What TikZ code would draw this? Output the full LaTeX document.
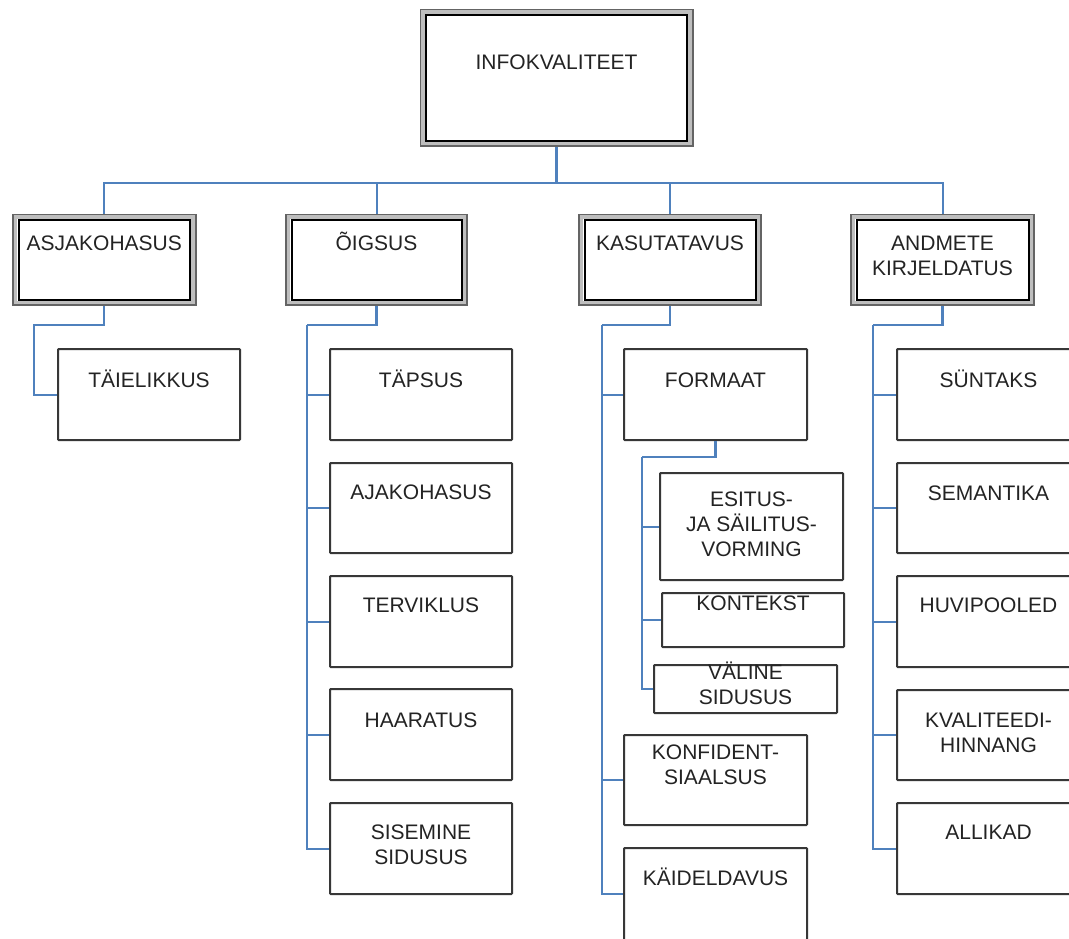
\documentclass[tikz,border=0pt]{standalone}
\usepackage{fontspec}
\setmainfont{Liberation Sans}
\usetikzlibrary{calc}
\definecolor{conn}{RGB}{79,129,189}
\definecolor{txt}{RGB}{35,35,35}
\definecolor{bord}{RGB}{55,55,55}
\definecolor{outerg}{RGB}{100,100,100}
\definecolor{midg}{RGB}{190,190,190}
\tikzset{
  lvlbox/.style={draw=outerg, line width=3pt, fill=white, rectangle, inner sep=0pt, anchor=north west},
  leafbox/.style={draw=bord, line width=2pt, fill=white, rectangle, inner sep=0pt, anchor=north west, rounded corners=0.8pt},
  lbl/.style={font=\fontsize{21}{24.8}\selectfont, text=txt, align=center, anchor=base, inner sep=0pt},
  wire/.style={draw=conn, line width=2pt},
  wirek/.style={draw=conn, line width=2.8pt},
}
% style, name, x1, y1, x2, y2, baseline y of last line, text
\newcommand\mkbox[8]{%
  \node[#1, minimum width={#5-#3}, minimum height={#6-#4}] (#2) at (#3,#4) {};
  \node[lbl] (#2-t) at (#2.north |- 0,#7) {#8};
}
\newcommand\dbl[1]{%
  \draw[midg, line width=3.5pt] ([shift={(3.5,3.5)}]#1.north west) rectangle ([shift={(-3.5,-3.5)}]#1.south east);
  \draw[black, line width=2pt] ([shift={(6.5,6.5)}]#1.north west) rectangle ([shift={(-6.5,-6.5)}]#1.south east);
}
\begin{document}
\begin{tikzpicture}[x=1pt,y=-1pt]
\useasboundingbox (0,0) rectangle (1069,938);
\fill[white] (0,0) rectangle (1069,938);
\clip (0,0) rectangle (1069,938);

% top
\mkbox{lvlbox}{inf}{419.5}{8.5}{690.5}{144}{69.5}{INFOKVALITEET}
\dbl{inf}

% level 1
\mkbox{lvlbox}{asj}{12}{213.5}{193.5}{303}{250.5}{ASJAKOHASUS}
\mkbox{lvlbox}{oig}{285}{213.5}{465}{303}{250.5}{ÕIGSUS}
\mkbox{lvlbox}{kas}{578}{213.5}{759}{303}{250.5}{KASUTATAVUS}
\mkbox{lvlbox}{and}{850}{213.5}{1032}{303}{275.3}{ANDMETE\\KIRJELDATUS}
\dbl{asj}\dbl{oig}\dbl{kas}\dbl{and}

% ASJAKOHASUS children
\mkbox{leafbox}{tai}{57}{348}{239}{439}{387.5}{TÄIELIKKUS}

% ÕIGSUS children
\mkbox{leafbox}{tap}{329}{348}{511}{439}{387.5}{TÄPSUS}
\mkbox{leafbox}{aja}{329}{462}{511}{552}{499}{AJAKOHASUS}
\mkbox{leafbox}{ter}{329}{575}{511}{666}{612.5}{TERVIKLUS}
\mkbox{leafbox}{haa}{329}{688}{511}{779}{727.5}{HAARATUS}
\mkbox{leafbox}{sis}{329}{802}{511}{893}{864.5}{SISEMINE\\SIDUSUS}

% KASUTATAVUS children
\mkbox{leafbox}{for}{623}{348}{806}{439}{387.5}{FORMAAT}
\mkbox{leafbox}{esi}{659}{472}{842}{579}{556.5}{ESITUS-\\JA SÄILITUS-\\VORMING}
\mkbox{leafbox}{kon}{661}{592}{843}{646}{610.5}{KONTEKST}
\mkbox{leafbox}{val}{653}{664}{836}{712}{704.5}{VÄLINE\\SIDUSUS}
\mkbox{leafbox}{knf}{623}{734}{806}{824}{784.5}{KONFIDENT-\\SIAALSUS}
\mkbox{leafbox}{kai}{623}{847}{806}{939}{885.5}{KÄIDELDAVUS}

% ANDMETE KIRJELDATUS children
\mkbox{leafbox}{syn}{896}{348}{1079}{439}{387.5}{SÜNTAKS}
\mkbox{leafbox}{sem}{896}{462}{1079}{552}{500.5}{SEMANTIKA}
\mkbox{leafbox}{huv}{896}{575}{1079}{666}{612.5}{HUVIPOOLED}
\mkbox{leafbox}{kva}{896}{689}{1079}{779}{752.3}{KVALITEEDI-\\HINNANG}
\mkbox{leafbox}{all}{896}{802}{1079}{893}{839.5}{ALLIKAD}

% connectors
\coordinate (bus) at (556,183);
\draw[wirek] (inf.south) -- (inf.south |- bus);
\draw[wire] (asj.north) |- (and.north |- bus) -- (and.north);
\draw[wire] (oig.north) -- (oig.north |- bus);
\draw[wire] (kas.north) -- (kas.north |- bus);

\coordinate (asjE) at (34,325);
\draw[wire] (asj.south) |- (asjE) |- (tai.west);

\coordinate (oigE) at (307,325);
\draw[wirek] (oig.south) |- (oigE);
\draw[wire] (oigE) |- (tap.west);
\draw[wire] (oigE) |- (aja.west);
\draw[wire] (oigE) |- (ter.west);
\draw[wire] (oigE) |- (haa.west);
\draw[wire] (oigE) |- (sis.west);

\coordinate (kasE) at (602,325);
\draw[wire] (kas.south) |- (kasE);
\draw[wire] (kasE) |- (for.west);
\draw[wire] (kasE) |- (knf.west);
\draw[wire] (kasE) |- (kai.west);

\coordinate (forE) at (642,457);
\draw[wirek] (for.south) |- (forE);
\draw[wire] (forE) |- (esi.west);
\draw[wire] (forE) |- (kon.west);
\draw[wire] (forE) |- (val.west);

\coordinate (andE) at (873,325);
\draw[wirek] (and.south) |- (andE);
\draw[wire] (andE) |- (syn.west);
\draw[wire] (andE) |- (sem.west);
\draw[wire] (andE) |- (huv.west);
\draw[wire] (andE) |- (kva.west);
\draw[wire] (andE) |- (all.west);
\end{tikzpicture}
\end{document}
